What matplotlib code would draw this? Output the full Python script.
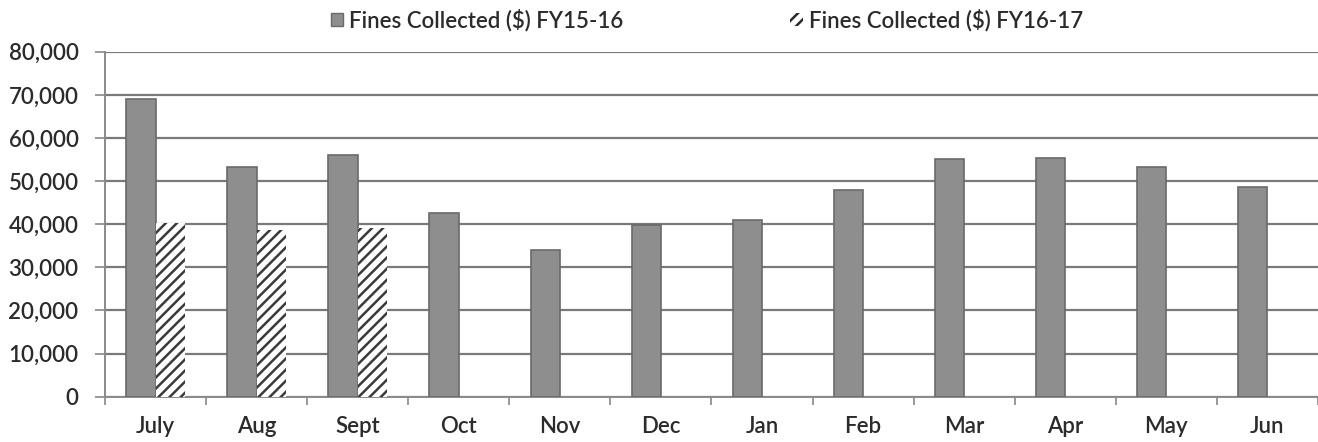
import matplotlib
matplotlib.use("Agg")
import matplotlib.pyplot as plt
import numpy as np
from matplotlib.patches import Patch
from matplotlib.ticker import FuncFormatter

months = ['July', 'Aug', 'Sept', 'Oct', 'Nov', 'Dec', 'Jan', 'Feb', 'Mar', 'Apr', 'May', 'Jun']
fy1516 = [69000, 53300, 56000, 42700, 34000, 39800, 41000, 48000, 55100, 55300, 53200, 48700]
fy1617 = [40300, 38700, 39200]
labels = ['Fines Collected ($) FY15-16', 'Fines Collected ($) FY16-17']

plt.rcParams['font.family'] = ['Lato', 'DejaVu Sans']
plt.rcParams['font.weight'] = 'semibold'
plt.rcParams['hatch.linewidth'] = 1.8
plt.rcParams['hatch.color'] = '#2a2a2a'

fig = plt.figure(figsize=(13.18, 4.42), dpi=100)
# right side of the plot is cut off in the original image
ax = fig.add_axes([105 / 1318, 45.3 / 442, (1318 - 105) / 1318, 345 / 442])

x = np.arange(len(months))
w = 0.29
ax.bar(x - 0.145, fy1516, width=w, color='#8e8e8e', edgecolor='#6a6a6a', linewidth=1.2, zorder=3)
ax.bar(x[:len(fy1617)] + 0.145, fy1617, width=w, color='white', edgecolor='#3a3a3a',
       linewidth=0, hatch='///', zorder=3)

ax.set_ylim(0, 80000)
ax.set_xlim(-0.5, -0.5 + (1318 - 105) / 101.9)
ax.set_yticks(np.arange(0, 80001, 10000))
ax.yaxis.set_major_formatter(FuncFormatter(lambda v, p: f'{int(v):,}'))
ax.grid(axis='y', color='#7a7a7a', linewidth=1.6, zorder=0)

ax.set_xticks(x)
ax.set_xticklabels(months)
ax.set_xticks(np.arange(-0.5, len(months), 1), minor=True)
ax.tick_params(axis='x', which='major', length=0, pad=14, labelsize=16, labelcolor='#2b2b2b')
ax.tick_params(axis='x', which='minor', length=6, width=1.2, color='#888888')
ax.tick_params(axis='y', length=7, width=1.2, color='#888888', pad=12, labelsize=16,
               labelcolor='#2b2b2b')

for s in ['top', 'right']:
    ax.spines[s].set_visible(False)
for s in ['left', 'bottom']:
    ax.spines[s].set_color('#8a8a8a')
    ax.spines[s].set_linewidth(1.4)

handles = [Patch(facecolor='#8e8e8e', edgecolor='#6a6a6a'),
           Patch(facecolor='white', edgecolor='#2a2a2a', linewidth=0, hatch='///')]
fig.legend(handles, labels, loc='upper center', bbox_to_anchor=(707 / 1318, 1.025), ncol=2,
           frameon=False, fontsize=16, handlelength=0.55, handleheight=0.55, handletextpad=0.3,
           columnspacing=7.5, labelcolor='#2b2b2b')

fig.savefig('out.png', dpi=100)
